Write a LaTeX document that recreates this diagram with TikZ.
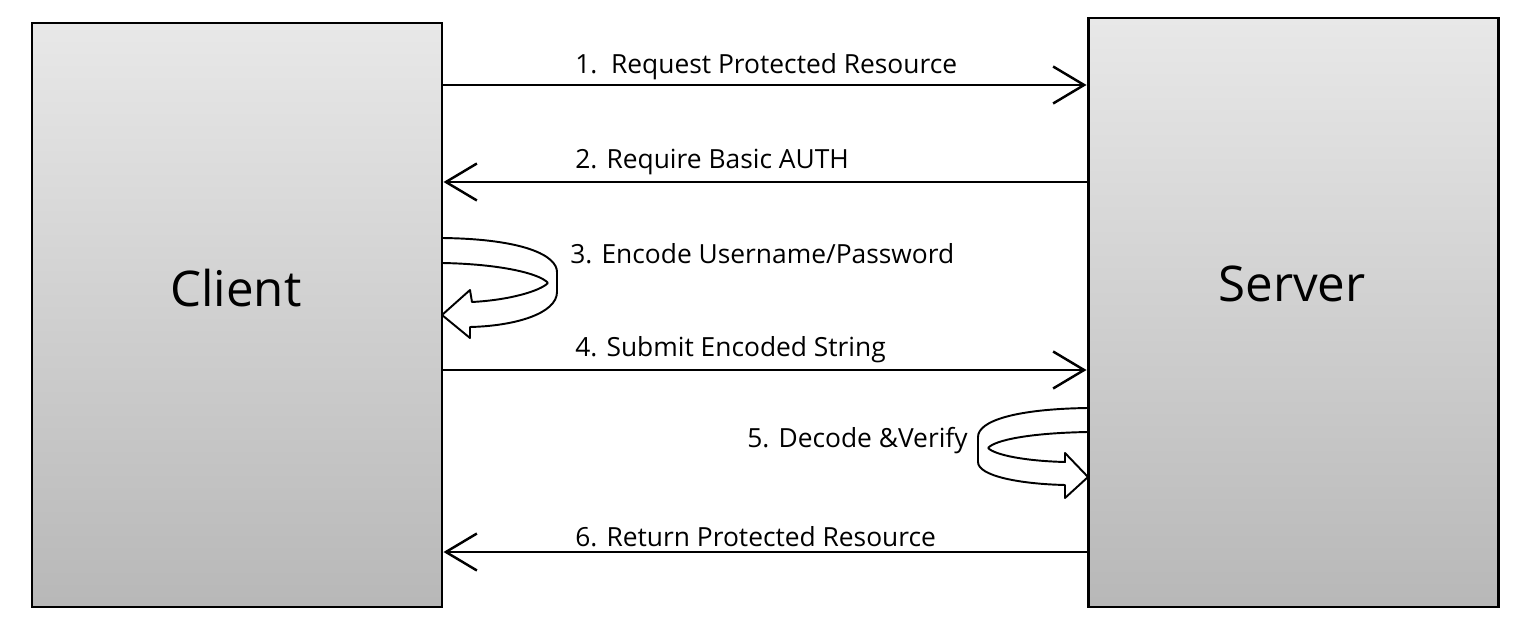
\documentclass[tikz,border=0pt]{standalone}
\usepackage{fontspec}
\setmainfont{Open Sans}
\usetikzlibrary{arrows.meta}

\tikzset{
  party/.style={draw=black, line width=1.7pt, top color=black!9, bottom color=black!28,
    minimum width=8.2cm, inner sep=0pt},
  msg/.style={line width=1.4pt, -{Straight Barb[length=0.62cm, width=0.74cm, line width=1.4pt]}},
  msglabel/.style={inner sep=0pt, font=\fontsize{15}{18}\selectfont},
  loop/.style={line width=1.1pt, line join=round}
}

\begin{document}
\begin{tikzpicture}
        \useasboundingbox (0,0) rectangle (30.56,12.52);

        % Client and Server
        \node[party, minimum height=11.68cm] (client) at (4.74,6.22) {};
        \node[party, minimum height=11.78cm] (server) at (25.86,6.27) {};
        \node[font=\fontsize{28}{33}\selectfont] (clientname) at (4.72,6.76) {Client};
        \node[font=\fontsize{28}{33}\selectfont] (servername) at (25.84,6.84) {Server};

        % Messages
        \draw[msg] (client.east |- 0,10.82) -- (server.west |- 0,10.82);
        \draw[msg] (server.west |- 0,8.88) -- (client.east |- 0,8.88);
        \draw[msg] (client.east |- 0,5.12) -- (server.west |- 0,5.12);
        \draw[msg] (server.west |- 0,1.48) -- (client.east |- 0,1.48);

        \node[msglabel, anchor=west] (l1) at (11.5,11.18) {1.\ \ Request Protected Resource};
        \node[msglabel, anchor=west] (l2) at (11.5,9.28) {2. Require Basic AUTH};
        \node[msglabel, anchor=west] (l3) at (11.4,7.44) {3. Encode Username/Password};
        \node[msglabel, anchor=west] (l4) at (11.5,5.52) {4. Submit Encoded String};
        \node[msglabel, anchor=east] (l5) at (19.36,3.70) {5. Decode \&Verify};
        \node[msglabel, anchor=west] (l6) at (11.5,1.78) {6. Return Protected Resource};

        % Encode loop at client
        \draw[loop] (8.84,7.76) .. controls (10.5,7.74) and (11.14,7.4) .. (11.14,7.08)
            -- (11.14,6.68) .. controls (11.14,6.25) and (10.3,6.0) .. (9.40,5.98)
            -- (9.40,5.76) -- (8.84,6.22) -- (9.40,6.72) -- (9.44,6.48)
            .. controls (10.2,6.52) and (10.8,6.7) .. (10.96,6.86);
        \draw[loop] (8.84,7.26) .. controls (10.0,7.24) and (10.8,7.05) .. (10.96,6.86);

        % Decode loop at server
        \draw[loop] (21.76,4.36) .. controls (20.3,4.34) and (19.56,4.1) .. (19.56,3.78)
            -- (19.56,3.28) .. controls (19.56,3.0) and (20.4,2.84) .. (21.30,2.82)
            -- (21.30,2.56) -- (21.76,2.98) -- (21.30,3.46) -- (21.30,3.28)
            .. controls (20.5,3.3) and (19.9,3.42) .. (19.76,3.56);
        \draw[loop] (21.76,3.88) .. controls (20.6,3.86) and (19.9,3.72) .. (19.76,3.56);
    \end{tikzpicture}
\end{document}
